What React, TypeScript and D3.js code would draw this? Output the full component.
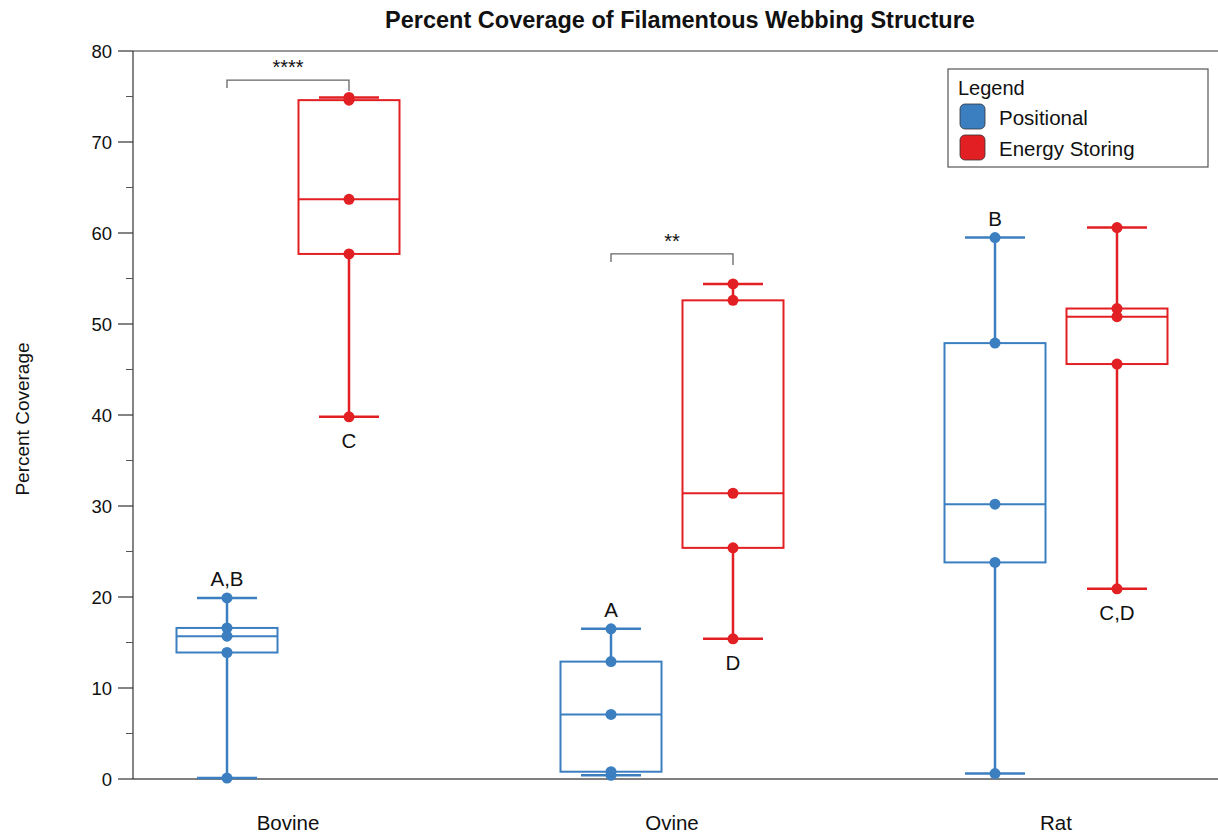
import * as d3 from "d3";
import React from "react";

// categories + series
const categories = ["Bovine", "Ovine", "Rat"];
const seriesNames = ["Positional", "Energy Storing"];
const seriesColors = ["#3b7fc0", "#e21f22"];

// raw observations per category (5 animals each)
const positionalValues = [
  [0.1, 13.9, 15.7, 16.6, 19.9],
  [0.4, 0.8, 7.1, 12.9, 16.5],
  [0.6, 23.8, 30.2, 47.9, 59.5],
];
const energyStoringValues = [
  [39.8, 57.7, 63.7, 74.6, 74.9],
  [15.4, 25.4, 31.4, 52.6, 54.4],
  [20.9, 45.6, 50.8, 51.7, 60.6],
];

// compact letter display
const positionalLetters = ["A,B", "A", "B"];
const energyStoringLetters = ["C", "D", "C,D"];

// significance brackets (positional vs energy storing)
const sigCategories = ["Bovine", "Ovine"];
const sigLabels = ["****", "**"];
const sigLevels = [76.8, 57.7];

const yTicks = [0, 10, 20, 30, 40, 50, 60, 70, 80];
const yMinorTicks = [5, 15, 25, 35, 45, 55, 65, 75];

const W = 1218;
const H = 835;
const m = { top: 51, right: 0, bottom: 56, left: 133 };
const font = "'Liberation Sans', Arial, Helvetica, sans-serif";

const seriesValues = [positionalValues, energyStoringValues];
const seriesLetters = [positionalLetters, energyStoringLetters];

function stats(vals: number[]) {
  const s = vals.slice().sort(d3.ascending);
  return {
    min: d3.min(s) as number,
    q1: d3.quantile(s, 0.25) as number,
    med: d3.quantile(s, 0.5) as number,
    q3: d3.quantile(s, 0.75) as number,
    max: d3.max(s) as number,
  };
}

export default function App() {
  const y = d3.scaleLinear().domain([0, 80]).range([H - m.bottom, m.top]);
  const x = d3.scalePoint<string>().domain(categories).range([288, 1056]);
  const sub = d3.scalePoint<string>().domain(seriesNames).range([-61, 61]);

  const boxW = 101;
  const capW = 60;

  return (
    <svg
      width={W}
      height={H}
      style={{ position: "absolute", left: 0, top: 0, background: "#fff" }}
      fontFamily={font}
    >
      {/* title */}
      <text x={680} y={28} textAnchor="middle" fontSize={23.5} fontWeight="bold" fill="#111">
        Percent Coverage of Filamentous Webbing Structure
      </text>

      {/* frame */}
      <line x1={m.left} x2={W} y1={y(80)} y2={y(80)} stroke="#333" strokeWidth={1.2} />
      <line x1={m.left} x2={W} y1={y(0)} y2={y(0)} stroke="#555" strokeWidth={1.5} />
      <line x1={m.left} x2={m.left} y1={y(80)} y2={y(0)} stroke="#333" strokeWidth={1.2} />

      {/* y axis */}
      {yTicks.map((t) => (
        <g key={t}>
          <line x1={m.left - 15} x2={m.left} y1={y(t)} y2={y(t)} stroke="#333" strokeWidth={1.2} />
          <text
            x={m.left - 21}
            y={y(t)}
            textAnchor="end"
            dominantBaseline="central"
            fontSize={18.5}
            fill="#111"
          >
            {t}
          </text>
        </g>
      ))}
      {yMinorTicks.map((t) => (
        <line key={t} x1={m.left - 7} x2={m.left} y1={y(t)} y2={y(t)} stroke="#555" strokeWidth={1} />
      ))}
      <text
        transform={`translate(22,${(y(0) + y(80)) / 2 + 4}) rotate(-90)`}
        textAnchor="middle"
        dominantBaseline="central"
        fontSize={19}
        fill="#111"
      >
        Percent Coverage
      </text>

      {/* x labels */}
      {categories.map((c) => (
        <text key={c} x={x(c)} y={822} textAnchor="middle" dominantBaseline="central" fontSize={20.5} fill="#111">
          {c}
        </text>
      ))}

      {/* boxes */}
      {seriesNames.map((s, si) =>
        categories.map((c, ci) => {
          const vals = seriesValues[si][ci];
          const st = stats(vals);
          const cx = (x(c) as number) + (sub(s) as number);
          const col = seriesColors[si];
          const letter = seriesLetters[si][ci];
          return (
            <g key={s + c}>
              <line x1={cx} x2={cx} y1={y(st.max)} y2={y(st.q3)} stroke={col} strokeWidth={2.5} />
              <line x1={cx} x2={cx} y1={y(st.q1)} y2={y(st.min)} stroke={col} strokeWidth={2.5} />
              <line x1={cx - capW / 2} x2={cx + capW / 2} y1={y(st.max)} y2={y(st.max)} stroke={col} strokeWidth={2.5} />
              <line x1={cx - capW / 2} x2={cx + capW / 2} y1={y(st.min)} y2={y(st.min)} stroke={col} strokeWidth={2.5} />
              <rect
                x={cx - boxW / 2}
                y={y(st.q3)}
                width={boxW}
                height={y(st.q1) - y(st.q3)}
                fill="none"
                stroke={col}
                strokeWidth={2}
              />
              <line x1={cx - boxW / 2} x2={cx + boxW / 2} y1={y(st.med)} y2={y(st.med)} stroke={col} strokeWidth={2} />
              {vals.map((v, i) => (
                <circle key={i} cx={cx} cy={y(v)} r={5.5} fill={col} />
              ))}
              <text
                x={cx}
                y={si === 0 ? y(st.max) - 12 : y(st.min) + 31}
                textAnchor="middle"
                fontSize={20.5}
                fill="#111"
              >
                {letter}
              </text>
            </g>
          );
        })
      )}

      {/* significance brackets */}
      {sigCategories.map((c, i) => {
        const x1 = (x(c) as number) + (sub(seriesNames[0]) as number);
        const x2 = (x(c) as number) + (sub(seriesNames[1]) as number);
        const yy = y(sigLevels[i]);
        return (
          <g key={c}>
            <path
              d={`M${x1},${yy + 8}V${yy}H${x2}V${yy + 11}`}
              fill="none"
              stroke="#666"
              strokeWidth={1.3}
            />
            <text x={(x1 + x2) / 2} y={yy - 6} textAnchor="middle" fontSize={20} fill="#111">
              {sigLabels[i]}
            </text>
          </g>
        );
      })}

      {/* legend */}
      <g transform="translate(948,69)">
        <rect width={260} height={98} fill="#fff" stroke="#555" strokeWidth={1.2} />
        <text x={10} y={19} dominantBaseline="central" fontSize={20} fill="#111">
          Legend
        </text>
        {seriesNames.map((s, i) => (
          <g key={s} transform={`translate(12,${35 + i * 31})`}>
            <rect width={25} height={25} rx={5} fill={seriesColors[i]} stroke="#333" strokeWidth={0.8} />
            <text x={39} y={13} dominantBaseline="central" fontSize={20.5} fill="#111">
              {s}
            </text>
          </g>
        ))}
      </g>
    </svg>
  );
}
